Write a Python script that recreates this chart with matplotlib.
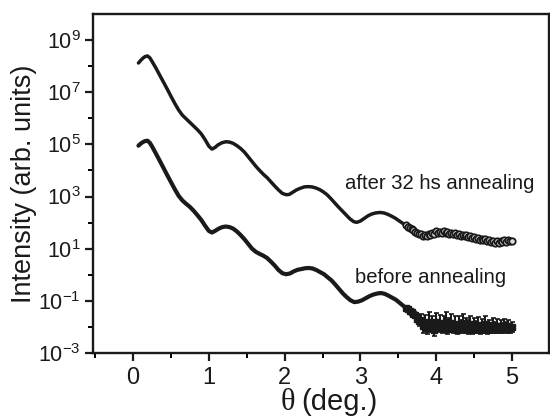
import matplotlib
matplotlib.use("Agg")
import matplotlib.pyplot as plt
import numpy as np
from matplotlib.ticker import FixedLocator, FixedFormatter, MultipleLocator

plt.rcParams['font.family'] = ['Liberation Sans', 'DejaVu Sans']
plt.rcParams['mathtext.fontset'] = 'custom'
plt.rcParams['mathtext.rm'] = 'Liberation Sans'
plt.rcParams['mathtext.it'] = 'Liberation Sans:italic'
plt.rcParams['mathtext.bf'] = 'Liberation Sans:bold'

# ---------------- data (log10 of intensity) ----------------
theta_after = [0.07, 0.10, 0.13, 0.16, 0.19, 0.22, 0.25, 0.30, 0.35, 0.40, 0.45, 0.50, 0.55, 0.60,
               0.65, 0.70, 0.75, 0.80, 0.85, 0.90, 0.95, 1.00, 1.04, 1.08, 1.12, 1.17, 1.22, 1.27,
               1.32, 1.37, 1.42, 1.47, 1.52, 1.57, 1.62, 1.67, 1.72, 1.77, 1.82, 1.87, 1.92, 1.97,
               2.02, 2.06, 2.11, 2.16, 2.21, 2.26, 2.31, 2.36, 2.41, 2.46, 2.51, 2.56, 2.61, 2.66,
               2.71, 2.76, 2.81, 2.86, 2.91, 2.95, 3.00, 3.05, 3.10, 3.15, 3.20, 3.26, 3.31, 3.36,
               3.41, 3.46, 3.51, 3.56]
logI_after = [8.12, 8.22, 8.31, 8.37, 8.39, 8.32, 8.18, 7.93, 7.66, 7.39, 7.12, 6.84, 6.57, 6.32,
              6.12, 5.98, 5.84, 5.70, 5.56, 5.40, 5.18, 4.93, 4.82, 4.88, 4.98, 5.06, 5.10, 5.09,
              5.04, 4.95, 4.84, 4.70, 4.52, 4.34, 4.16, 4.00, 3.85, 3.72, 3.56, 3.40, 3.25, 3.12,
              3.07, 3.08, 3.17, 3.26, 3.32, 3.37, 3.38, 3.37, 3.33, 3.27, 3.18, 3.07, 2.92, 2.76,
              2.60, 2.45, 2.30, 2.15, 2.04, 2.01, 2.06, 2.16, 2.26, 2.33, 2.37, 2.39, 2.37, 2.32,
              2.25, 2.17, 2.07, 1.97]

theta_after_tail = [3.600, 3.625, 3.650, 3.675, 3.700, 3.725, 3.750, 3.775, 3.800, 3.825, 3.850,
                    3.875, 3.900, 3.925, 3.950, 3.975, 4.000, 4.025, 4.050, 4.075, 4.100, 4.125,
                    4.150, 4.175, 4.200, 4.225, 4.250, 4.275, 4.300, 4.325, 4.350, 4.375, 4.400,
                    4.425, 4.450, 4.475, 4.500, 4.525, 4.550, 4.575, 4.600, 4.625, 4.650, 4.675,
                    4.700, 4.725, 4.750, 4.775, 4.800, 4.825, 4.850, 4.875, 4.900, 4.925, 4.950,
                    4.975, 5.000]
logI_after_tail = [1.89, 1.84, 1.80, 1.74, 1.71, 1.64, 1.61, 1.55, 1.55, 1.49, 1.53,
                   1.50, 1.58, 1.54, 1.62, 1.58, 1.66, 1.60, 1.65, 1.61, 1.66, 1.60,
                   1.63, 1.57, 1.61, 1.55, 1.60, 1.54, 1.57, 1.50, 1.53, 1.47, 1.51,
                   1.44, 1.48, 1.41, 1.45, 1.38, 1.42, 1.35, 1.39, 1.32, 1.36, 1.29,
                   1.33, 1.26, 1.30, 1.23, 1.28, 1.22, 1.29, 1.24, 1.32, 1.27, 1.34,
                   1.29, 1.31]

theta_before = [0.07, 0.10, 0.13, 0.16, 0.19, 0.22, 0.25, 0.30, 0.35, 0.40, 0.45, 0.50, 0.55, 0.60,
                0.65, 0.70, 0.75, 0.80, 0.85, 0.90, 0.95, 1.00, 1.04, 1.08, 1.13, 1.18, 1.22, 1.27,
                1.32, 1.37, 1.42, 1.47, 1.52, 1.57, 1.62, 1.67, 1.72, 1.77, 1.82, 1.87, 1.92, 1.97,
                2.02, 2.07, 2.12, 2.17, 2.22, 2.27, 2.32, 2.37, 2.42, 2.47, 2.52, 2.57, 2.62, 2.67,
                2.72, 2.77, 2.82, 2.87, 2.92, 2.97, 3.02, 3.07, 3.12, 3.17, 3.22, 3.27, 3.32, 3.37,
                3.42, 3.47, 3.52, 3.57]
logI_before = [4.95, 5.03, 5.09, 5.13, 5.14, 5.06, 4.92, 4.65, 4.38, 4.10, 3.82, 3.55, 3.28, 3.03,
               2.85, 2.72, 2.60, 2.45, 2.28, 2.10, 1.88, 1.68, 1.62, 1.68, 1.77, 1.83, 1.85, 1.83,
               1.77, 1.66, 1.52, 1.36, 1.18, 1.00, 0.88, 0.80, 0.73, 0.64, 0.50, 0.35, 0.18, 0.06,
               0.02, 0.05, 0.13, 0.19, 0.22, 0.25, 0.26, 0.24, 0.18, 0.10, 0.02, -0.10, -0.22, -0.38,
               -0.55, -0.72, -0.86, -0.98, -1.05, -1.03, -0.98, -0.90, -0.82, -0.76, -0.72, -0.70,
               -0.73, -0.80, -0.88, -0.96, -1.08, -1.20]

theta_before_tail = [3.600, 3.625, 3.650, 3.675, 3.700, 3.725, 3.750, 3.775, 3.800, 3.825, 3.850,
                     3.875, 3.900, 3.925, 3.950, 3.975, 4.000, 4.025, 4.050, 4.075, 4.100, 4.125,
                     4.150, 4.175, 4.200, 4.225, 4.250, 4.275, 4.300, 4.325, 4.350, 4.375, 4.400,
                     4.425, 4.450, 4.475, 4.500, 4.525, 4.550, 4.575, 4.600, 4.625, 4.650, 4.675,
                     4.700, 4.725, 4.750, 4.775, 4.800, 4.825, 4.850, 4.875, 4.900, 4.925, 4.950,
                     4.975, 5.000]
logI_before_tail = [-1.28, -1.33, -1.38, -1.42, -1.50, -1.55, -1.68, -1.78, -1.72, -1.95, -1.85,
                    -2.05, -1.80, -1.98, -1.88, -2.10, -1.82, -1.96, -1.85, -2.05, -1.90, -1.80,
                    -2.08, -1.92, -1.85, -2.02, -1.88, -2.10, -1.92, -1.98, -1.86, -2.05, -1.95,
                    -2.00, -1.90, -2.08, -1.94, -2.00, -1.92, -2.06, -1.96, -2.02, -1.90, -2.08,
                    -1.98, -2.04, -1.94, -2.02, -1.96, -2.06, -1.98, -2.04, -1.95, -2.02, -1.98,
                    -2.05, -2.00]
err_before_tail = [0.05, 0.06, 0.06, 0.08, 0.08, 0.10, 0.14, 0.18, 0.22, 0.28, 0.32,
                   0.24, 0.36, 0.22, 0.30, 0.26, 0.34, 0.24, 0.32, 0.20, 0.30, 0.36,
                   0.20, 0.28, 0.34, 0.22, 0.30, 0.18, 0.32, 0.26, 0.34, 0.20, 0.28,
                   0.26, 0.32, 0.18, 0.28, 0.22, 0.30, 0.20, 0.26, 0.22, 0.32, 0.18,
                   0.26, 0.20, 0.28, 0.22, 0.26, 0.18, 0.24, 0.20, 0.26, 0.20, 0.24,
                   0.18, 0.20]

xticks = [0, 1, 2, 3, 4, 5]
ytick_exps = [-3, -1, 1, 3, 5, 7, 9]
yminor_exps = [-2, 0, 2, 4, 6, 8]

# ---------------- figure ----------------
fig = plt.figure(figsize=(5.5, 4.18), dpi=100)
ax = fig.add_axes([93/550, 1-353/418, (549-93)/550, (353-14)/418])

col = '#1a1a1a'
ta = np.array(theta_after); ia = 10.0**np.array(logI_after)
tat = np.array(theta_after_tail); iat = 10.0**np.array(logI_after_tail)
tb = np.array(theta_before); ib = 10.0**np.array(logI_before)
tbt = np.array(theta_before_tail); ibt = 10.0**np.array(logI_before_tail)
eb = np.array(err_before_tail)

# after annealing
ax.plot(np.concatenate([ta, tat]), np.concatenate([ia, iat]), '-', color=col, lw=2.5,
        solid_capstyle='round', zorder=3)
ax.plot(tat, iat, 'o', ms=4.6, mfc='#dddddd', mec=col, mew=1.3, zorder=4)

# before annealing
ax.plot(np.concatenate([tb, tbt]), np.concatenate([ib, ibt]), '-', color=col, lw=3.0,
        solid_capstyle='round', zorder=3)
lo = ibt - ibt / 10.0**eb
hi = ibt * 10.0**eb - ibt
ax.errorbar(tbt, ibt, yerr=[lo, hi], fmt='s', ms=3.8, color=col, ecolor=col,
            elinewidth=1.5, capsize=1.8, capthick=1.2, zorder=4)

ax.set_yscale('log')
ax.set_xlim(-0.53, 5.49)
ax.set_ylim(10.0**-3, 10.0**10)

ax.xaxis.set_major_locator(FixedLocator(xticks))
ax.xaxis.set_minor_locator(MultipleLocator(0.5))
ax.yaxis.set_major_locator(FixedLocator([10.0**e for e in ytick_exps]))
ax.yaxis.set_major_formatter(FixedFormatter([r'$\mathregular{10^{%d}}$' % e for e in ytick_exps]))
ax.yaxis.set_minor_locator(FixedLocator([10.0**e for e in yminor_exps]))
ax.yaxis.set_minor_formatter(FixedFormatter([''] * len(yminor_exps)))

ax.tick_params(axis='both', which='major', direction='out', length=6, width=1.6,
               colors=col, top=False, right=False, pad=3)
ax.tick_params(axis='y', which='major', labelsize=15.5)
ax.tick_params(axis='x', which='major', labelsize=17, pad=4)
ax.tick_params(axis='both', which='minor', direction='out', length=3.5, width=1.4,
               top=False, right=False)
for s in ax.spines.values():
    s.set_linewidth(1.7)
    s.set_color(col)

ax.set_ylabel('Intensity (arb. units)', fontsize=19.5, color=col, labelpad=1)
fig.text(281/550, 1-402/418, 'θ', fontsize=22, color=col, ha='left', va='center',
         family=['Liberation Serif', 'DejaVu Serif'])
fig.text(301/550, 1-402/418, '(deg.)', fontsize=21, color=col, ha='left', va='center')

ax.text(2.80, 10.0**3.50, 'after 32 hs annealing', fontsize=14.6, color=col, va='center', ha='left')
ax.text(2.93, 10.0**-0.09, 'before annealing', fontsize=14.6, color=col, va='center', ha='left')

fig.savefig('out.png', dpi=100)
